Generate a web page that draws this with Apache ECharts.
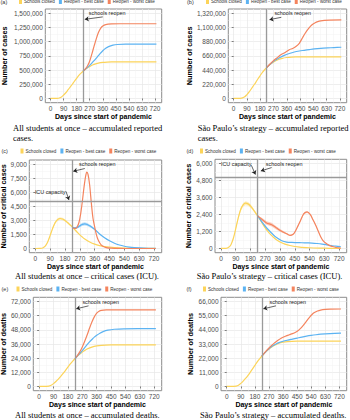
<!DOCTYPE html>
<html>
<head>
<meta charset="utf-8">
<script src="https://cdn.jsdelivr.net/npm/echarts@6/dist/echarts.min.js"></script>
<style>
html, body { margin: 0; padding: 0; background: #fff; }
#chart { width: 350px; height: 420px; }
</style>
</head>
<body>
<div id="chart"></div>
<script>
// ---- data ----
var reopenDay = 224;
var icuCapacity = 5000;
var xMajor = [0, 90, 180, 270, 360, 450, 540, 630, 720];
var xMinor = [45, 135, 225, 315, 405, 495, 585, 675];

// accumulated reported cases
var casesClosedDays = [0, 30, 45, 60, 75, 90, 105, 120, 135, 150, 165, 180, 195, 210, 224, 240, 255, 270, 285, 300, 330, 360, 390, 420, 480, 600, 730];
var casesClosed = [0, 0, 1000, 8000, 25000, 60000, 100000, 150000, 200000, 250000, 305000, 355000, 405000, 445000, 478000, 512000, 540000, 563000, 584000, 600000, 622000, 634000, 640000, 643000, 645000, 645000, 645000];
var casesBestADays = [224, 240, 260, 280, 300, 320, 340, 360, 380, 400, 430, 460, 520, 600, 730];
var casesBestA = [478000, 515000, 560000, 610000, 665000, 725000, 785000, 840000, 883000, 913000, 938000, 950000, 955000, 956000, 956000];
var casesWorstADays = [224, 240, 255, 270, 285, 300, 315, 330, 345, 360, 380, 420, 480, 600, 730];
var casesWorstA = [478000, 520000, 575000, 660000, 785000, 920000, 1050000, 1160000, 1235000, 1275000, 1300000, 1312000, 1315000, 1315000, 1315000];
var casesBestBDays = [224, 245, 275, 310, 343, 377, 411, 445, 479, 513, 547, 590, 638, 680, 730];
var casesBestB = [478000, 525000, 584000, 630000, 668000, 697000, 720000, 735000, 746000, 757000, 767000, 776000, 783000, 788000, 793000];
var casesWorstBDays = [224, 245, 275, 300, 320, 343, 377, 400, 422, 445, 468, 485, 502, 520, 536, 553, 570, 590, 615, 650, 730];
var casesWorstB = [478000, 530000, 595000, 640000, 678000, 704000, 756000, 775000, 805000, 855000, 945000, 1010000, 1068000, 1118000, 1150000, 1174000, 1190000, 1203000, 1211000, 1215000, 1216000];

// critical cases (ICU), with the shaded bands' lower / upper edges
var icuClosedDays = [0, 30, 45, 60, 75, 90, 105, 120, 135, 150, 165, 180, 195, 210, 224, 240, 255, 270, 285, 300, 330, 360, 390, 420, 480, 540, 600, 660, 730];
var icuClosed = [0, 10, 60, 250, 700, 1400, 2150, 2750, 3080, 3200, 3150, 3000, 2780, 2530, 2300, 2000, 1720, 1460, 1220, 1010, 690, 460, 310, 210, 100, 50, 25, 12, 5];
var icuClosedLow = [0, 10, 55, 230, 650, 1320, 2040, 2620, 2940, 3060, 3020, 2880, 2680, 2450, 2240, 1950, 1680, 1430, 1200, 990, 680, 455, 305, 205, 98, 49, 24, 12, 5];
var icuClosedHigh = [0, 10, 65, 270, 750, 1480, 2260, 2880, 3220, 3340, 3280, 3120, 2880, 2610, 2360, 2050, 1760, 1490, 1240, 1030, 700, 465, 315, 215, 102, 51, 26, 12, 5];
var icuBestADays = [224, 240, 255, 270, 285, 300, 315, 330, 345, 360, 375, 390, 420, 450, 480, 510, 540, 570, 600, 660, 730];
var icuBestA = [2300, 2200, 2250, 2420, 2570, 2620, 2560, 2420, 2250, 2050, 1800, 1550, 1150, 820, 560, 370, 240, 150, 100, 40, 10];
var icuBestALow = [2300, 2120, 2130, 2270, 2400, 2450, 2400, 2280, 2130, 1960, 1730, 1500, 1120, 800, 550, 365, 237, 148, 99, 40, 10];
var icuBestAHigh = [2300, 2280, 2370, 2570, 2740, 2790, 2720, 2560, 2370, 2140, 1870, 1600, 1180, 840, 570, 375, 243, 152, 101, 40, 10];
var icuWorstADays = [224, 235, 245, 255, 265, 275, 285, 295, 305, 312, 320, 330, 340, 350, 360, 370, 380, 395, 410, 430, 460, 500, 600, 730];
var icuWorstA = [2300, 2150, 2150, 2350, 2800, 3700, 5000, 6500, 7700, 8150, 7900, 6700, 4800, 3200, 2300, 1500, 950, 480, 230, 100, 30, 5, 0, 0];
var icuBestBDays = [224, 247, 268, 288, 309, 329, 350, 370, 401, 432, 463, 494, 525, 555, 586, 617, 648, 679, 700, 730];
var icuBestB = [2300, 1920, 1600, 1330, 1080, 853, 680, 545, 450, 427, 415, 403, 392, 380, 350, 308, 250, 190, 160, 135];
var icuBestBLow = [2300, 1860, 1520, 1250, 1010, 800, 645, 525, 440, 420, 410, 400, 389, 377, 347, 305, 247, 188, 158, 133];
var icuBestBHigh = [2300, 1980, 1680, 1410, 1150, 906, 715, 565, 460, 434, 420, 406, 395, 383, 353, 311, 253, 192, 162, 137];
var icuWorstBDays = [224, 247, 278, 309, 339, 370, 401, 422, 440, 453, 468, 483, 504, 525, 545, 560, 576, 592, 607, 622, 638, 660, 679, 700, 730];
var icuWorstB = [2300, 2085, 1800, 1680, 1445, 1210, 1040, 920, 1000, 1210, 1560, 1920, 2440, 2580, 2390, 2050, 1680, 1250, 850, 560, 380, 220, 140, 70, 24];
var icuWorstBLow = [2300, 1990, 1680, 1550, 1330, 1120, 980, 880, 960, 1170, 1510, 1870, 2390, 2530, 2340, 2000, 1640, 1220, 830, 550, 375, 217, 138, 69, 24];
var icuWorstBHigh = [2300, 2180, 1920, 1810, 1560, 1300, 1100, 960, 1040, 1250, 1610, 1970, 2490, 2630, 2440, 2100, 1720, 1280, 870, 570, 385, 223, 142, 71, 24];

// accumulated deaths
var deathsClosedDays = [0, 30, 60, 75, 90, 105, 120, 135, 150, 165, 180, 195, 210, 224, 240, 255, 270, 285, 300, 330, 360, 390, 450, 540, 730];
var deathsClosed = [0, 0, 300, 1000, 2400, 4200, 6200, 8500, 11000, 13700, 16400, 19100, 21500, 23500, 25700, 27500, 29100, 30500, 31700, 33400, 34400, 34900, 35200, 35300, 35300];
var deathsBestADays = [224, 240, 255, 270, 285, 300, 315, 330, 345, 360, 380, 400, 430, 470, 530, 730];
var deathsBestA = [23500, 26000, 28100, 30400, 33000, 35500, 37800, 39800, 41800, 43400, 45200, 46500, 47700, 48500, 48900, 49100];
var deathsWorstADays = [224, 240, 255, 270, 285, 300, 315, 330, 345, 360, 375, 390, 420, 480, 730];
var deathsWorstA = [23500, 26300, 29500, 33500, 38300, 43600, 49300, 54600, 59000, 62100, 63800, 64500, 64900, 65000, 65000];
var deathsBestBDays = [224, 240, 255, 270, 285, 300, 315, 330, 360, 390, 420, 450, 480, 510, 540, 570, 600, 660, 730];
var deathsBestB = [23500, 25700, 27600, 29300, 30800, 32000, 33000, 33900, 35100, 36000, 36800, 37600, 38400, 39100, 39700, 40200, 40600, 41100, 41500];
var deathsWorstBDays = [224, 240, 255, 270, 285, 300, 315, 330, 345, 360, 380, 400, 420, 440, 455, 470, 485, 500, 515, 530, 545, 560, 580, 600, 630, 660, 730];
var deathsWorstB = [23500, 25900, 28000, 29900, 31700, 33300, 34800, 36100, 37300, 38300, 39300, 40200, 41100, 42200, 43300, 44900, 46900, 49200, 51600, 53900, 55900, 57400, 58700, 59400, 59900, 60100, 60200];

var names = ['Schools closed', 'Reopen - best case', 'Reopen - worst case'];
var colors = ['#FCD45A', '#5CB3F2', '#F4845E'];

function zip(days, vals) {
	return days.map(function (d, i) { return [d, vals[i]]; });
}

// panel layout + annotations
var panels = [
	{ tag: '(a)', box: [45.3, 9, 116.4, 93.7], yTop: 1500000, yStep: 250000, yName: 'Number of cases', yGap: 37,
	  lines: [[casesClosedDays, casesClosed], [casesBestADays, casesBestA], [casesWorstADays, casesWorstA]], bands: [],
	  notes: [{ text: 'schools reopen', at: [390, 1500000], from: [360, 1436000], to: [236, 1393000] }],
	  legend: [19, -1], tagAt: [0.5, 1.5], caption: ['All students at once – accumulated reported', 'cases.'], capAt: [13, 128] },
	{ tag: '(b)', box: [228.3, 9, 118.4, 93.7], yTop: 1320000, yStep: 220000, yName: 'Number of cases', yGap: 33.5,
	  lines: [[casesClosedDays, casesClosed], [casesBestBDays, casesBestB], [casesWorstBDays, casesWorstB]], bands: [],
	  notes: [{ text: 'schools reopen', at: [400, 1320000], from: [323, 1257000], to: [243, 1221000] }],
	  legend: [206, -1], tagAt: [187, 1.5], caption: ['São Paulo’s strategy – accumulated reported', 'cases.'], capAt: [197.7, 128] },
	{ tag: '(c)', box: [29.3, 160, 132.4, 92.7], yTop: 9000, yStep: 1500, yName: 'Number of critical cases', yGap: 19.5, icu: true,
	  lines: [[icuClosedDays, icuClosed], [icuBestADays, icuBestA], [icuWorstADays, icuWorstA]],
	  bands: [[icuClosedDays, icuClosedLow, icuClosedHigh, 0], [icuBestADays, icuBestALow, icuBestAHigh, 1]],
	  notes: [{ text: 'schools reopen', at: [376, 9000], from: [300, 8540], to: [230, 8245] },
	          { text: 'ICU capacity', at: [90, 6020], from: [186, 6095], to: [204, 5180] }],
	  legend: [20.5, 148.5], tagAt: [1.5, 151], caption: ['All students at once – critical cases (ICU).'], capAt: [15, 276] },
	{ tag: '(d)', box: [215, 159.3, 131.7, 93.4], yTop: 6000, yStep: 1200, yName: 'Number of critical cases', yGap: 21.5, icu: true,
	  lines: [[icuClosedDays, icuClosed], [icuBestBDays, icuBestB], [icuWorstBDays, icuWorstB]],
	  bands: [[icuClosedDays, icuClosedLow, icuClosedHigh, 0], [icuBestBDays, icuBestBLow, icuBestBHigh, 1], [icuWorstBDays, icuWorstBLow, icuWorstBHigh, 2]],
	  notes: [{ text: 'ICU capacity', at: [93, 5950], from: [185, 5880], to: [210, 5219] },
	          { text: 'schools reopen', at: [385, 5950], from: [309, 5716], to: [243, 5475] }],
	  legend: [200, 148.5], tagAt: [186.5, 151], caption: ['São Paulo’s strategy – critical cases (ICU).'], capAt: [196.7, 276] },
	{ tag: '(e)', box: [33.3, 297.3, 128.4, 93.4], yTop: 72000, yStep: 12000, yName: 'Number of deaths', yGap: 24,
	  lines: [[deathsClosedDays, deathsClosed], [deathsBestADays, deathsBestA], [deathsWorstADays, deathsWorstA]], bands: [],
	  notes: [{ text: 'schools reopen', at: [385, 72000], from: [309, 68350], to: [232, 65810] }],
	  legend: [16.5, 286.5], tagAt: [1.5, 289], caption: ['All students at once – accumulated deaths.'], capAt: [15, 415] },
	{ tag: '(f)', box: [221, 297.3, 125.7, 93.4], yTop: 66000, yStep: 11000, yName: 'Number of deaths', yGap: 27.5,
	  lines: [[deathsClosedDays, deathsClosed], [deathsBestBDays, deathsBestB], [deathsWorstBDays, deathsWorstB]], bands: [],
	  notes: [{ text: 'schools reopen', at: [390, 66000], from: [315, 62660], to: [234, 60330] }],
	  legend: [203, 286.5], tagAt: [186.5, 289], caption: ['São Paulo’s strategy – accumulated deaths.'], capAt: [200, 415] }
];

var font = 'Liberation Sans';
var grid = [], xAxis = [], yAxis = [], series = [], legend = [], graphic = [];

// shaded band between lower and upper edge, placed through the axes
function bandSeries(b, i) {
	return {
		type: 'custom', xAxisIndex: 2 * i, yAxisIndex: 2 * i, silent: true, clip: true, z: 1,
		data: [[b[0][0], b[1][0]]],
		renderItem: function (params, api) {
			var pts = [];
			for (var j = 0; j < b[0].length; j++) pts.push(api.coord([b[0][j], b[2][j]]));
			for (var j2 = b[0].length - 1; j2 >= 0; j2--) pts.push(api.coord([b[0][j2], b[1][j2]]));
			return { type: 'polygon', shape: { points: pts }, style: { fill: colors[b[3]], opacity: 0.4 } };
		}
	};
}

panels.forEach(function (p, i) {
	grid.push({
		left: p.box[0], top: p.box[1], width: p.box[2], height: p.box[3],
		show: true, borderColor: '#8c8c8c', borderWidth: 1, backgroundColor: '#fff',
		containLabel: false, outerBoundsMode: 'none'
	});

	var yMaj = [], yMin = [];
	for (var v = 0; v <= p.yTop; v += p.yStep) { yMaj.push(v); if (v < p.yTop) yMin.push(v + p.yStep / 2); }
	var pad = p.yTop * 0.05;

	xAxis.push({
		type: 'value', gridIndex: i, min: -36.5, max: 766.5,
		axisLine: { show: false },
		axisTick: { show: true, length: 2, customValues: xMajor, lineStyle: { color: '#333', width: 0.6 } },
		axisLabel: { customValues: xMajor, fontSize: 6.5, color: '#4d4d4d', margin: 2.5, fontFamily: font },
		splitLine: { show: true, lineStyle: { color: '#e6e6e6', width: 0.7 } },
		name: 'Days since start of pandemic', nameLocation: 'middle', nameGap: 10,
		nameTextStyle: { fontSize: 7, fontWeight: 'bold', color: '#000', fontFamily: font }
	});
	xAxis.push({
		type: 'value', gridIndex: i, min: -36.5, max: 766.5,
		axisLine: { show: false }, axisLabel: { show: false },
		axisTick: { show: false, customValues: xMinor },
		splitLine: { show: true, lineStyle: { color: '#f2f2f2', width: 0.5 } }
	});
	yAxis.push({
		type: 'value', gridIndex: i, min: -pad, max: p.yTop + pad,
		axisLine: { show: false },
		axisTick: { show: true, length: 2, customValues: yMaj, lineStyle: { color: '#333', width: 0.6 } },
		axisLabel: {
			customValues: yMaj, fontSize: 6.5, color: '#4d4d4d', margin: 2.5, fontFamily: font,
			formatter: function (val) { return Math.round(val).toLocaleString('en-US'); }
		},
		splitLine: { show: true, lineStyle: { color: '#e6e6e6', width: 0.7 } },
		name: p.yName, nameLocation: 'middle', nameGap: p.yGap,
		nameTextStyle: { fontSize: 7.3, fontWeight: 'bold', color: '#000', fontFamily: font }
	});
	yAxis.push({
		type: 'value', gridIndex: i, min: -pad, max: p.yTop + pad,
		axisLine: { show: false }, axisLabel: { show: false },
		axisTick: { show: false, customValues: yMin },
		splitLine: { show: true, lineStyle: { color: '#f2f2f2', width: 0.5 } }
	});

	p.bands.forEach(function (b) { series.push(bandSeries(b, i)); });

	var marks = [{ xAxis: reopenDay, lineStyle: { color: '#9a9a9a', width: 1.3, type: 'solid' } }];
	if (p.icu) marks.push({ yAxis: icuCapacity, lineStyle: { color: '#9a9a9a', width: 1.3, type: 'solid' } });
	p.notes.forEach(function (n) {
		var ls = { color: '#222', width: 0.7, type: 'solid', curveness: 0.35 };
		marks.push([{ coord: n.from, symbol: 'none', lineStyle: ls }, { coord: n.to, symbol: 'arrow', symbolSize: 4, lineStyle: ls }]);
	});

	p.lines.forEach(function (l, k) {
		var s = {
			type: 'line', name: names[k], xAxisIndex: 2 * i, yAxisIndex: 2 * i,
			data: zip(l[0], l[1]), symbol: 'none', smooth: 0.3,
			lineStyle: { color: colors[k], width: 1.2 }, itemStyle: { color: colors[k] }, z: 3
		};
		if (k === 0) {
			s.markLine = {
				silent: true, animation: false, symbol: ['none', 'none'], label: { show: false },
				data: marks
			};
			s.markPoint = {
				silent: true, animation: false, symbol: 'rect', symbolSize: 1,
				itemStyle: { color: 'rgba(0,0,0,0)' },
				label: { show: true, position: 'inside', color: '#222', fontSize: 5.4, fontFamily: font, formatter: '{b}' },
				data: p.notes.map(function (n) { return { name: n.text, coord: n.at }; })
			};
		}
		series.push(s);
	});

	legend.push({
		data: names, left: p.legend[0], top: p.legend[1], orient: 'horizontal', padding: 0,
		itemWidth: 3, itemHeight: 5, itemGap: 4, icon: 'rect', selectedMode: false,
		textStyle: { fontSize: 4.6, color: '#333', fontFamily: font, padding: [0, 0, 0, -3] }
	});

	graphic.push({
		type: 'text', x: p.tagAt[0], y: p.tagAt[1],
		style: { text: p.tag, fontSize: 5.5, fontFamily: font, fill: '#333', verticalAlign: 'middle' }
	});
	p.caption.forEach(function (c, k) {
		graphic.push({
			type: 'text', x: p.capAt[0], y: p.capAt[1] + k * 9.5,
			style: { text: c, fontSize: 8.5, fontFamily: 'Liberation Serif', fill: '#000', verticalAlign: 'middle' }
		});
	});
});

var chart = echarts.init(document.getElementById('chart'), null, { renderer: 'svg' });
chart.setOption({
	backgroundColor: '#fff',
	animation: false,
	grid: grid,
	xAxis: xAxis,
	yAxis: yAxis,
	legend: legend,
	series: series,
	graphic: graphic
});
</script>
</body>
</html>
